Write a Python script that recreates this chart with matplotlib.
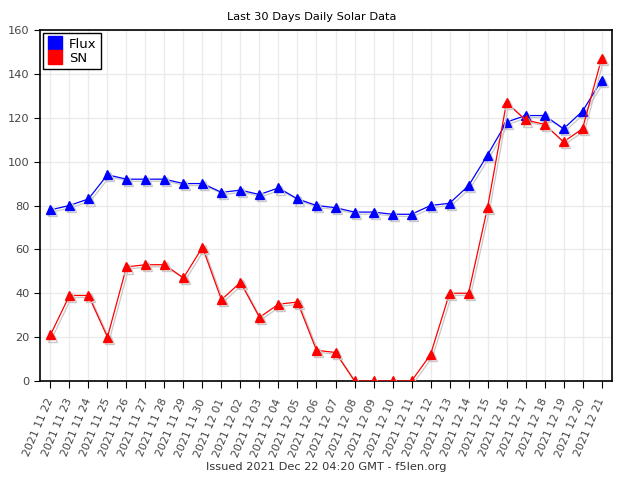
import numpy as np
import matplotlib
matplotlib.use("Agg")
import matplotlib.pyplot as plt
import matplotlib.patheffects as pe
from matplotlib.lines import Line2D

dates = ['2021 11 22', '2021 11 23', '2021 11 24', '2021 11 25', '2021 11 26',
         '2021 11 27', '2021 11 28', '2021 11 29', '2021 11 30', '2021 12 01',
         '2021 12 02', '2021 12 03', '2021 12 04', '2021 12 05', '2021 12 06',
         '2021 12 07', '2021 12 08', '2021 12 09', '2021 12 10', '2021 12 11',
         '2021 12 12', '2021 12 13', '2021 12 14', '2021 12 15', '2021 12 16',
         '2021 12 17', '2021 12 18', '2021 12 19', '2021 12 20', '2021 12 21']
flux = [78, 80, 83, 94, 92, 92, 92, 90, 90, 86, 87, 85, 88, 83, 80,
        79, 77, 77, 76, 76, 80, 81, 89, 103, 118, 121, 121, 115, 123, 137]
sn = [21, 39, 39, 20, 52, 53, 53, 47, 61, 37, 45, 29, 35, 36, 14,
      13, 0, 0, 0, 0, 12, 40, 40, 79, 127, 119, 117, 109, 115, 147]

fig = plt.figure(figsize=(6.4, 4.8), dpi=100)
ax = fig.add_axes([40/640, 99/480, 572/640, 351/480])

x = np.arange(len(dates))
shadow = [pe.SimpleLineShadow(offset=(1.5, -1.5), shadow_color='#c8c8c8', alpha=1), pe.Normal()]
ax.plot(x, flux, color='#0000ff', lw=0.9, marker='^', ms=6.5, zorder=3, path_effects=shadow)
ax.plot(x, sn, color='#ff0000', lw=0.9, marker='^', ms=6.5, zorder=3, path_effects=shadow)

ax.set_xlim(-0.55, 29.55)
ax.set_ylim(0, 160)
ax.set_yticks(range(0, 161, 20))
ax.set_xticks(x)
ax.set_xticklabels(dates, rotation=67, ha='right', va='center', rotation_mode='anchor',
                   fontsize=7.8, color='#444444')
ax.tick_params(axis='y', labelsize=8.2, labelcolor='#444444', length=4)
ax.tick_params(axis='x', length=5, pad=8)
ax.grid(True, color='#ebebeb', lw=1)
ax.set_axisbelow(True)
for s in ax.spines.values():
    s.set_linewidth(1.2)

ax.set_title('Last 30 Days Daily Solar Data', fontsize=8.2, pad=7, x=0.4755)
fig.text(0.509, 0.027, 'Issued 2021 Dec 22 04:20 GMT - f5len.org', ha='center', va='center',
         fontsize=8.2, color='#333333')

handles = [Line2D([], [], ls='none', marker='s', ms=10, color='#0000ff'),
           Line2D([], [], ls='none', marker='s', ms=10, color='#ff0000')]
leg = ax.legend(handles, ['Flux', 'SN'], loc='upper left', fontsize=9.5, fancybox=False,
                edgecolor='black', framealpha=1, handletextpad=0.6, handlelength=1.0,
                borderaxespad=0.25, borderpad=0.35, labelspacing=0.05)
leg.get_frame().set_linewidth(1)

fig.savefig('out.png', dpi=100)
